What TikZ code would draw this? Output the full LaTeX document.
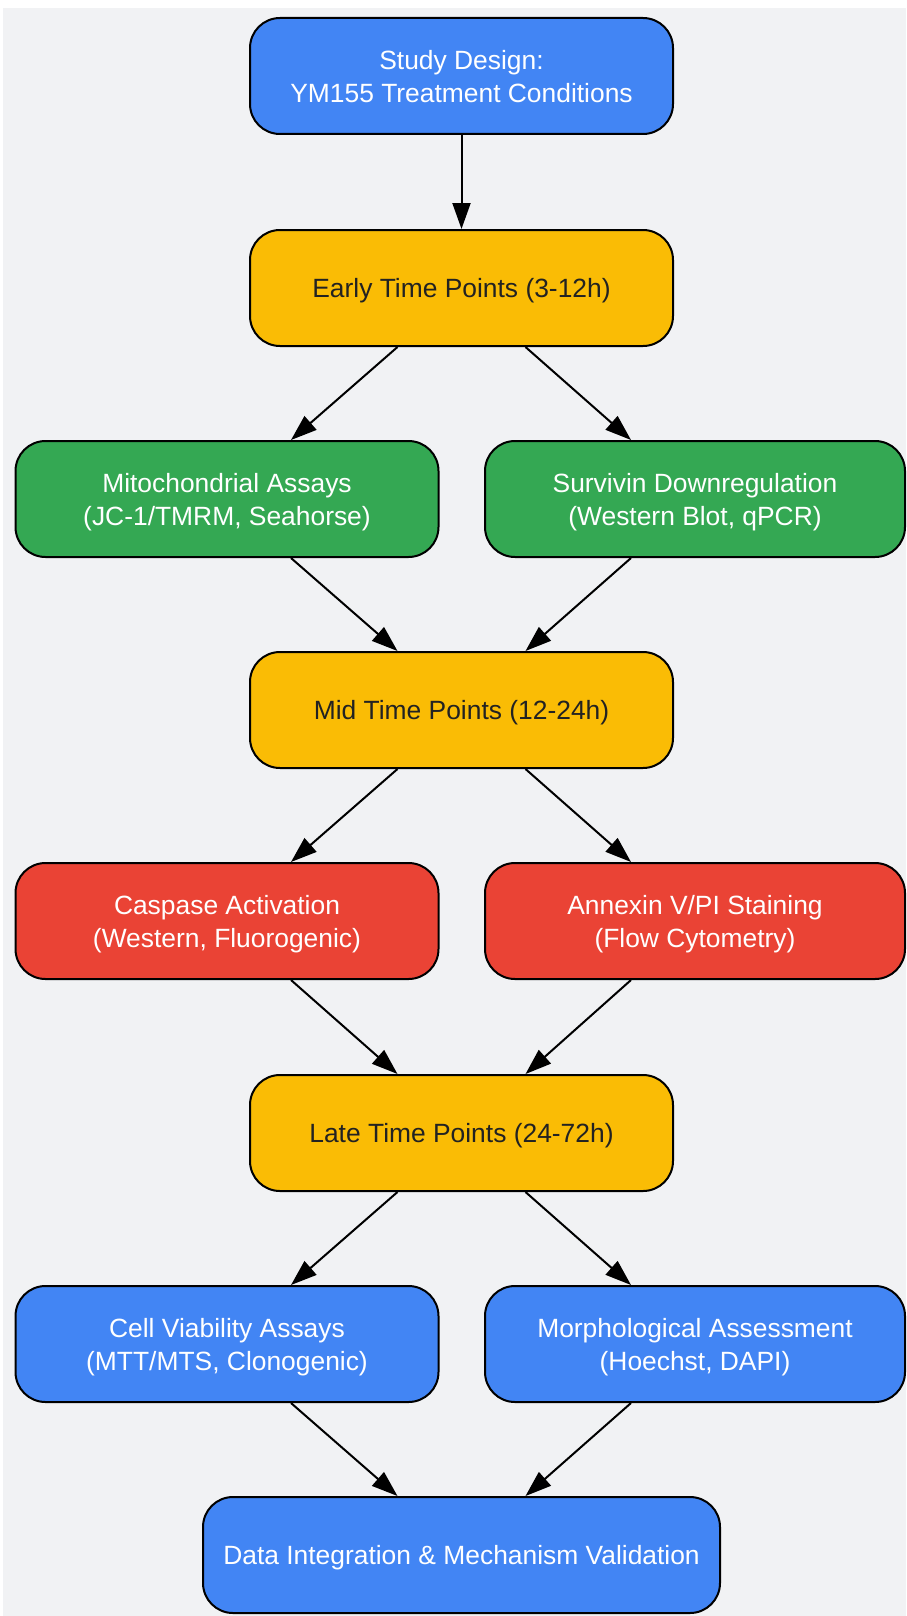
\documentclass[tikz,border=0pt]{standalone}
\usepackage{fontspec}
\setmainfont{Liberation Sans}
\usetikzlibrary{arrows.meta}
\pgfdeclarelayer{background layer}
\pgfsetlayers{background layer,main}
\definecolor{gblue}{HTML}{4285F4}
\definecolor{gyellow}{HTML}{FABC05}
\definecolor{ggreen}{HTML}{34A853}
\definecolor{gred}{HTML}{EA4335}
\definecolor{bggray}{HTML}{F1F2F4}
\definecolor{darktext}{HTML}{222222}

\begin{document}
\begin{tikzpicture}[x=0.5pt,y=-0.5pt,
box/.style={rectangle, rounded corners=15pt, draw=black, line width=1pt, minimum width=211.5pt, minimum height=58pt, align=center, text depth=0pt, font=\fontsize{13.2pt}{16.5pt}\selectfont, text=white},
bluebox/.style={box, fill=gblue},
yellowbox/.style={box, fill=gyellow, text=darktext},
greenbox/.style={box, fill=ggreen},
redbox/.style={box, fill=gred},
arr/.style={-{Triangle[length=13pt,width=9pt]}, line width=1pt}
]
\useasboundingbox (0,0) rectangle (906,1616);
\node[bluebox] (design) at (461.5,76) {Study Design:\\YM155 Treatment Conditions};
\node[yellowbox] (early) at (461.5,288) {Early Time Points (3-12h)};
\node[greenbox] (mito) at (227,499) {Mitochondrial Assays\\(JC-1/TMRM, Seahorse)};
\node[greenbox, minimum width=210pt] (surv) at (695,499) {Survivin Downregulation\\(Western Blot, qPCR)};
\node[yellowbox] (mid) at (461.5,710) {Mid Time Points (12-24h)};
\node[redbox] (casp) at (227,921) {Caspase Activation\\(Western, Fluorogenic)};
\node[redbox, minimum width=210pt] (annex) at (695,921) {Annexin V/PI Staining\\(Flow Cytometry)};
\node[yellowbox] (late) at (461.5,1133) {Late Time Points (24-72h)};
\node[bluebox] (viab) at (227,1344) {Cell Viability Assays\\(MTT/MTS, Clonogenic)};
\node[bluebox, minimum width=210pt] (morph) at (695,1344) {Morphological Assessment\\(Hoechst, DAPI)};
\node[bluebox, minimum width=258.5pt] (integ) at (461.5,1555) {Data Integration \& Mechanism Validation};
\draw[arr] (design) -- (early);
\draw[arr] ([xshift=-32pt]early.south) -- ([xshift=32pt]mito.north);
\draw[arr] ([xshift=32pt]early.south) -- ([xshift=-32pt]surv.north);
\draw[arr] ([xshift=32pt]mito.south) -- ([xshift=-32pt]mid.north);
\draw[arr] ([xshift=-32pt]surv.south) -- ([xshift=32pt]mid.north);
\draw[arr] ([xshift=-32pt]mid.south) -- ([xshift=32pt]casp.north);
\draw[arr] ([xshift=32pt]mid.south) -- ([xshift=-32pt]annex.north);
\draw[arr] ([xshift=32pt]casp.south) -- ([xshift=-32pt]late.north);
\draw[arr] ([xshift=-32pt]annex.south) -- ([xshift=32pt]late.north);
\draw[arr] ([xshift=-32pt]late.south) -- ([xshift=32pt]viab.north);
\draw[arr] ([xshift=32pt]late.south) -- ([xshift=-32pt]morph.north);
\draw[arr] ([xshift=32pt]viab.south) -- ([xshift=-32pt]integ.north);
\draw[arr] ([xshift=-32pt]morph.south) -- ([xshift=32pt]integ.north);
\begin{pgfonlayer}{background layer}
\fill[bggray] (3,8) rectangle (906,1616);
\end{pgfonlayer}
\end{tikzpicture}
\end{document}
